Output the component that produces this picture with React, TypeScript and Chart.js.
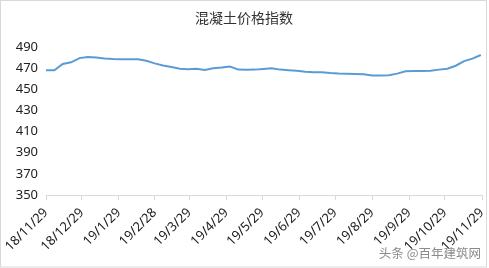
import React, { useEffect, useRef } from "react";
import { Chart, registerables } from "chart.js";

Chart.register(...registerables);

const title = "混凝土价格指数";
const watermark = "头条 @百年建筑网";
const startDate = "18/11/29";
const tickLabels = [
  "18/11/29", "18/12/29", "19/1/29", "19/2/28", "19/3/29", "19/4/29", "19/5/29",
  "19/6/29", "19/7/29", "19/8/29", "19/9/29", "19/10/29", "19/11/29",
];
// weekly index values, starting 18/11/29
const values = [
  468, 468, 474, 475.5, 479.5, 480.5, 480, 479.2, 478.7, 478.4, 478.3, 478.3,
  477, 474.5, 472.5, 471, 469.5, 469, 469.5, 468.3, 469.8, 470.5, 471.6, 468.6,
  468.5, 468.6, 469.3, 469.8, 468.6, 468.1, 467.5, 466.6, 466, 466, 465.4, 465,
  464.8, 464.5, 464.2, 463.1, 463, 463.2, 464.8, 467, 467.3, 467.3, 467.5, 468.6,
  469.5, 472.3, 476.7, 479, 482.4,
];
const yMin = 350;
const yMax = 490;
const yStep = 20;

function parseDate(s: string): number {
  const [y, m, d] = s.split("/").map(Number);
  return Date.UTC(2000 + y, m - 1, d);
}
const DAY = 86400000;
const t0 = parseDate(startDate);
const tickDays = tickLabels.map((l) => Math.round((parseDate(l) - t0) / DAY));
const points = values.map((v, i) => ({ x: i * 7, y: v }));

const frame = {
  id: "frame",
  beforeDraw(chart: any) {
    const { ctx, width, height } = chart;
    ctx.save();
    ctx.fillStyle = "#ffffff";
    ctx.fillRect(0, 0, width, height);
    ctx.restore();
  },
  afterDraw(chart: any) {
    const { ctx, width } = chart;
    ctx.save();
    ctx.strokeStyle = "#d9d9d9";
    ctx.lineWidth = 1;
    ctx.strokeRect(0.5, 0.5, width - 3, chart.height - 1.5);
    ctx.fillStyle = "#333333";
    ctx.font = "14px 'Noto Sans CJK SC'";
    ctx.textAlign = "center";
    ctx.textBaseline = "middle";
    ctx.fillText(title, 244, 18);
    ctx.fillStyle = "#8a8a8a";
    ctx.font = "12.5px 'Noto Sans CJK SC'";
    ctx.textAlign = "right";
    ctx.fillText(watermark, 481, 253);
    ctx.restore();
  },
};

export default function App() {
  const ref = useRef<HTMLCanvasElement>(null);
  useEffect(() => {
    document.body.style.margin = "0";
    const chart = new Chart(ref.current!, {
      type: "line",
      data: {
        datasets: [
          {
            data: points,
            borderColor: "#5b9bd5",
            borderWidth: 2,
            pointRadius: 0,
            tension: 0,
            fill: false,
          },
        ],
      },
      options: {
        animation: false,
        responsive: false,
        layout: { padding: { top: 47, right: 7, bottom: 0, left: 0 } },
        plugins: { legend: { display: false }, title: { display: false }, tooltip: { enabled: false } },
        scales: {
          x: {
            type: "linear",
            min: 0,
            max: tickDays[tickDays.length - 1],
            afterBuildTicks: (scale: any) => {
              scale.ticks = tickDays.map((d) => ({ value: d }));
            },
            afterFit: (scale: any) => {
              scale.height = 73;
              scale.paddingLeft = 0;
              scale.paddingRight = 0;
            },
            grid: {
              display: true,
              drawOnChartArea: false,
              drawTicks: true,
              tickLength: 5,
              color: "#d9d9d9",
            },
            border: { display: true, color: "#d9d9d9" },
            ticks: {
              autoSkip: false,
              minRotation: 45,
              maxRotation: 45,
              padding: 5,
              color: "#222222",
              font: { family: "'Noto Sans', sans-serif", size: 13 },
              callback: (v: any) => {
                const i = tickDays.indexOf(Number(v));
                return i >= 0 ? tickLabels[i] : "";
              },
            },
          },
          y: {
            min: yMin,
            max: yMax,
            afterFit: (scale: any) => {
              scale.width = 46;
            },
            grid: { display: false, drawTicks: false },
            border: { display: false },
            ticks: {
              stepSize: yStep,
              padding: 8,
              color: "#222222",
              font: { family: "'Noto Sans', sans-serif", size: 13 },
            },
          },
        },
      } as any,
      plugins: [frame],
    });
    return () => chart.destroy();
  }, []);
  return <canvas ref={ref} width={489} height={268} style={{ display: "block" }} />;
}
